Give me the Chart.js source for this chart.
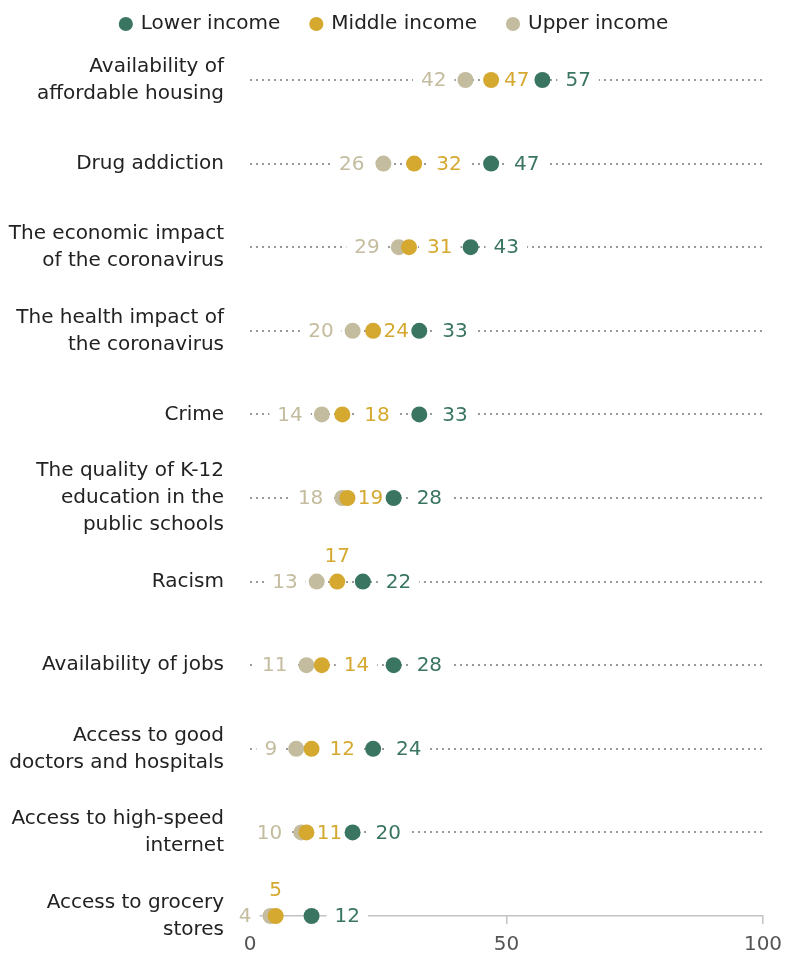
<!DOCTYPE html>
<html>
<head>
<meta charset="utf-8">
<script src="https://cdn.jsdelivr.net/npm/chart.js@4.4.1/dist/chart.umd.min.js"></script>
<style>
  html, body { margin: 0; padding: 0; background: #fff; }
  #wrap { width: 787px; height: 955px; }
</style>
</head>
<body>
<div id="wrap"><canvas id="chart"></canvas></div>
<script>
// Issues, top to bottom
const issues = [
  ["Availability of", "affordable housing"],
  "Drug addiction",
  ["The economic impact", "of the coronavirus"],
  ["The health impact of", "the coronavirus"],
  "Crime",
  ["The quality of K-12", "education in the", "public schools"],
  "Racism",
  "Availability of jobs",
  ["Access to good", "doctors and hospitals"],
  ["Access to high-speed", "internet"],
  ["Access to grocery", "stores"]
];

const lowerIncome  = [57, 47, 43, 33, 33, 28, 22, 28, 24, 20, 12];
const middleIncome = [47, 32, 31, 24, 18, 19, 17, 14, 12, 11, 5];
const upperIncome  = [42, 26, 29, 20, 14, 18, 13, 11, 9, 10, 4];

const xTicks = [0, 50, 100];

const GREEN = "#3a7562";
const GOLD = "#d5a82f";
const BEIGE = "#c4bc9f";
const FONT = "'DejaVu Sans', sans-serif";
const SIZE = 20;
const R = 8;

// rows where the middle value sits above its dot (no room beside it)
const middleAbove = [6, 10];

function valueLabelItems(chart) {
  const xs = chart.scales.x, ys = chart.scales.y, ctx = chart.ctx;
  ctx.save();
  ctx.font = SIZE + "px " + FONT;
  const items = [];
  issues.forEach((_, i) => {
    const y = ys.getPixelForValue(i);
    const lo = xs.getPixelForValue(lowerIncome[i]);
    const mid = xs.getPixelForValue(middleIncome[i]);
    const up = xs.getPixelForValue(upperIncome[i]);

    const tu = String(upperIncome[i]);
    const wu = ctx.measureText(tu).width;
    items.push({ text: tu, x: up - R - 11 - wu, y: y, w: wu, color: BEIGE });

    const tm = String(middleIncome[i]);
    const wm = ctx.measureText(tm).width;
    if (middleAbove.includes(i)) {
      items.push({ text: tm, x: mid - wm / 2, y: y - 26, w: wm, color: GOLD });
    } else {
      const room = (lo - R) - (mid + R) - wm;
      const gap = Math.min(14, room / 2);
      items.push({ text: tm, x: mid + R + gap, y: y, w: wm, color: GOLD });
    }

    const tl = String(lowerIncome[i]);
    const wl = ctx.measureText(tl).width;
    items.push({ text: tl, x: lo + R + 15, y: y, w: wl, color: GREEN });
  });
  ctx.restore();
  return items;
}

// white boxes under the numbers break the dotted rules, then the numbers go on top
const valueLabels = {
  id: "valueLabels",
  beforeDatasetsDraw(chart) {
    const ctx = chart.ctx;
    ctx.save();
    ctx.fillStyle = "#fff";
    valueLabelItems(chart).forEach(it => {
      ctx.fillRect(it.x - 8, it.y - 12, it.w + 16, 24);
    });
    ctx.restore();
  },
  afterDatasetsDraw(chart) {
    const ctx = chart.ctx;
    ctx.save();
    ctx.font = SIZE + "px " + FONT;
    ctx.textBaseline = "middle";
    ctx.textAlign = "left";
    valueLabelItems(chart).forEach(it => {
      ctx.fillStyle = it.color;
      ctx.fillText(it.text, it.x, it.y + 1);
    });
    ctx.restore();
  }
};

// extra room under the legend; the row's trailing padding is evened out too
const legendGap = {
  id: "legendGap",
  beforeInit(chart) {
    const fit = chart.legend.fit;
    chart.legend.fit = function () {
      fit.call(this);
      this.height += 36;
    };
  },
  afterLayout(chart) {
    chart.legend.left += 13;
    chart.legend.right += 13;
  }
};

function dotSet(label, data, color) {
  return {
    label: label,
    data: data,
    showLine: false,
    backgroundColor: color,
    borderColor: color,
    borderWidth: 0,
    pointRadius: R,
    pointHoverRadius: R,
    pointStyle: "circle",
    clip: false
  };
}

new Chart(document.getElementById("chart"), {
  type: "line",
  data: {
    labels: issues,
    datasets: [
      dotSet("Lower income", lowerIncome, GREEN),
      dotSet("Middle income", middleIncome, GOLD),
      dotSet("Upper income", upperIncome, BEIGE)
    ]
  },
  plugins: [legendGap, valueLabels],
  options: {
    indexAxis: "y",
    responsive: true,
    maintainAspectRatio: false,
    animation: false,
    layout: { padding: { top: -17, right: 24, left: 0, bottom: 0 } },
    plugins: {
      tooltip: { enabled: false },
      legend: {
        position: "top",
        labels: {
          usePointStyle: true,
          pointStyle: "circle",
          boxWidth: 10,
          boxHeight: 10,
          padding: 31,
          color: "#222",
          font: { family: FONT, size: SIZE }
        }
      }
    },
    scales: {
      x: {
        type: "linear",
        min: 0,
        max: 100,
        afterBuildTicks: axis => { axis.ticks = xTicks.map(v => ({ value: v })); },
        afterFit: axis => {
          axis.height = 39;
          axis.paddingLeft = 0;
          axis.paddingRight = 0;
        },
        grid: { drawOnChartArea: false, drawTicks: true, tickLength: 8, color: "#c2c2c2", lineWidth: 1.5 },
        border: { display: true, color: "#c2c2c2", width: 1.5 },
        ticks: { color: "#555", padding: 9, font: { family: FONT, size: SIZE } }
      },
      y: {
        type: "category",
        offset: false,
        afterFit: axis => {
          axis.width = 250;
          axis.paddingTop = 0;
          axis.paddingBottom = 0;
        },
        grid: {
          drawTicks: false,
          lineWidth: 2,
          color: c => c.index === issues.length - 1 ? "rgba(0,0,0,0)" : "#9a9a9a"
        },
        border: { display: false, dash: [2, 4] },
        ticks: {
          color: "#222",
          padding: 26,
          autoSkip: false,
          font: { family: FONT, size: SIZE, lineHeight: 1.35 }
        }
      }
    }
  }
});
</script>
</body>
</html>
